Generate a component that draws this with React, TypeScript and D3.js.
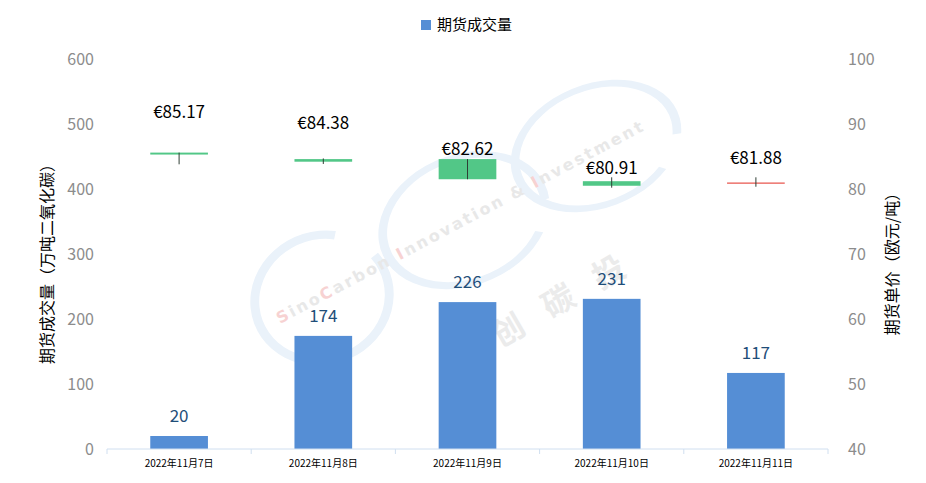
import React from 'react';
import * as d3 from 'd3';

const WIDTH = 926;
const HEIGHT = 483;

const BAR_COLOR = '#558ED5';
const UP_COLOR = '#E8564E';
const DOWN_COLOR = '#52C787';
const CJK = '"Noto Sans CJK SC", "Noto Sans", sans-serif';

// data
const dates = ['2022年11月7日', '2022年11月8日', '2022年11月9日', '2022年11月10日', '2022年11月11日'];
const volume = [20, 174, 226, 231, 117];
const open = [85.6, 84.6, 84.6, 81.2, 80.9];
const high = [85.6, 84.7, 84.6, 81.8, 81.8];
const low = [83.8, 83.85, 81.5, 80.2, 80.35];
const close = [85.3, 84.2, 81.5, 80.5, 80.9];
const priceLabels = ['€85.17', '€84.38', '€82.62', '€80.91', '€81.88'];
const priceLabelAt = [91.85, 90.1, 86.15, 83.3, 84.8];
const leftTicks = [0, 100, 200, 300, 400, 500, 600];
const rightTicks = [40, 50, 60, 70, 80, 90, 100];

const margin = { top: 59, right: 98, bottom: 34, left: 107 };

// background logo: three linked open rings (cx, cy, r, squash, gap start/end in radians)
const rings = [
  { cx: 322, cy: 298, r: 68, sy: 0.92, a0: 0.55, a1: 1.25 },
  { cx: 464, cy: 220, r: 84, sy: 0.74, a0: 1.75, a1: 2.25 },
  { cx: 596, cy: 146, r: 84, sy: 0.7, a0: 1.9, a1: 2.45 },
];

function Watermark() {
  const arc = d3.arc<{ a0: number; a1: number; r: number }>()
    .innerRadius((d) => d.r - 4.5)
    .outerRadius((d) => d.r + 4.5)
    .startAngle((d) => d.a1)
    .endAngle((d) => d.a0 + Math.PI * 2);
  return (
    <g pointerEvents="none">
      {rings.map((g, i) => (
        <path
          key={i}
          d={arc(g) ?? ''}
          fill="#EAF2FA"
          transform={`translate(${g.cx},${g.cy}) rotate(-22) scale(1,${g.sy})`}
        />
      ))}
      <text
        transform="translate(280,324) rotate(-28)"
        fontFamily="Verdana, 'DejaVu Sans', sans-serif"
        fontSize={16}
        fontWeight="bold"
        letterSpacing={2.4}
        fill="#E8E8E8"
      >
        <tspan fill="#F7D2D2">S</tspan>ino<tspan fill="#F7D2D2">C</tspan>arbon <tspan fill="#F7D2D2">I</tspan>nnovation &amp; <tspan fill="#F7D2D2">I</tspan>nvestment
      </text>
      <text
        transform="translate(500,348) rotate(-30)"
        fontFamily={CJK}
        fontSize={32}
        fontWeight="bold"
        letterSpacing={26}
        fill="#EBEBEB"
      >
        创碳投
      </text>
    </g>
  );
}

export default function App() {
  const innerW = WIDTH - margin.left - margin.right;
  const innerH = HEIGHT - margin.top - margin.bottom;

  const x = d3.scaleBand<string>().domain(dates).range([0, innerW]).paddingInner(0.6).paddingOuter(0.3);
  const band = d3.scaleBand<string>().domain(dates).range([0, innerW]);
  const yL = d3.scaleLinear().domain([0, 600]).range([innerH, 0]);
  const yR = d3.scaleLinear().domain([40, 100]).range([innerH, 0]);
  const bw = x.bandwidth();

  return (
    <svg width={WIDTH} height={HEIGHT} style={{ position: 'absolute', left: 0, top: 0, background: '#fff' }}>
      <Watermark />

      {/* legend */}
      <g transform="translate(421,20)">
        <rect width={10} height={10} fill={BAR_COLOR} />
        <text x={16} y={5} dy="0.35em" fontFamily={CJK} fontSize={15} fill="#000">期货成交量</text>
      </g>

      <g transform={`translate(${margin.left},${margin.top})`}>
        {/* left ticks */}
        {leftTicks.map((t) => (
          <text key={t} x={-13} y={yL(t)} dy="0.35em" textAnchor="end" fontFamily={CJK} fontSize={16} fill="#8C8C8C">{t}</text>
        ))}
        {/* right ticks */}
        {rightTicks.map((t) => (
          <text key={t} x={innerW + 20} y={yR(t)} dy="0.35em" textAnchor="start" fontFamily={CJK} fontSize={16} fill="#8C8C8C">{t}</text>
        ))}

        {/* bars */}
        {dates.map((d, i) => (
          <g key={d}>
            <rect x={x(d)} y={yL(volume[i])} width={bw} height={innerH - yL(volume[i])} fill={BAR_COLOR} />
            <text x={x(d)! + bw / 2} y={yL(volume[i]) - 20} dy="0.35em" textAnchor="middle" fontFamily={CJK} fontSize={17} fill="#1F4E79">
              {volume[i]}
            </text>
          </g>
        ))}

        {/* candles */}
        {dates.map((d, i) => {
          const cx = x(d)! + bw / 2;
          const top = yR(Math.max(open[i], close[i]));
          const bot = yR(Math.min(open[i], close[i]));
          const color = close[i] >= open[i] ? UP_COLOR : DOWN_COLOR;
          return (
            <g key={d}>
              {bot - top < 1.5 ? (
                <line x1={x(d)} x2={x(d)! + bw} y1={top} y2={top} stroke={color} strokeWidth={1.2} />
              ) : (
                <rect x={x(d)} y={top} width={bw} height={bot - top} fill={color} />
              )}
              <line x1={cx} x2={cx} y1={yR(high[i])} y2={yR(low[i])} stroke="#2F3F35" strokeWidth={1} />
              <text x={cx} y={yR(priceLabelAt[i])} dy="0.35em" textAnchor="middle" fontFamily={CJK} fontSize={17} fill="#000">
                {priceLabels[i]}
              </text>
            </g>
          );
        })}

        {/* x axis */}
        <line x1={0} x2={innerW} y1={innerH} y2={innerH} stroke="#D0DFF0" strokeWidth={1} />
        {[...dates.map((d) => band(d)!), innerW].map((p, i) => (
          <line key={i} x1={p} x2={p} y1={innerH} y2={innerH + 5} stroke="#D0DFF0" strokeWidth={1} />
        ))}
        {dates.map((d) => (
          <text key={d} x={x(d)! + bw / 2} y={innerH + 14} dy="0.35em" textAnchor="middle" fontFamily={CJK} fontSize={10} fill="#000">
            {d}
          </text>
        ))}
      </g>

      {/* axis titles */}
      <text transform="translate(47,260) rotate(-90)" textAnchor="middle" dy="0.35em" fontFamily={CJK} fontSize={16} fill="#000">
        期货成交量（万吨二氧化碳）
      </text>
      <text transform="translate(892,260) rotate(-90)" textAnchor="middle" dy="0.35em" fontFamily={CJK} fontSize={16} fill="#000">
        期货单价（欧元/吨）
      </text>
    </svg>
  );
}
